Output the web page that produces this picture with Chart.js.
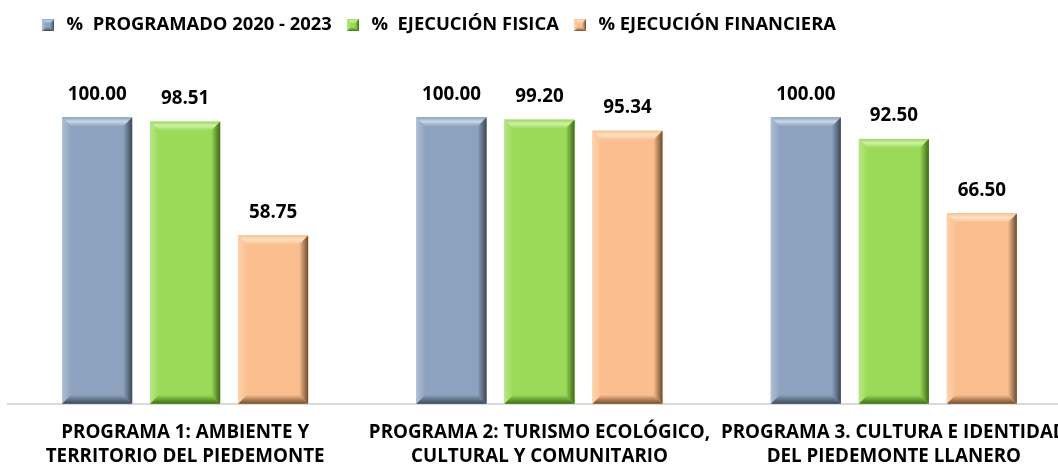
<!DOCTYPE html>
<html lang="es">
<head>
<meta charset="UTF-8">
<title>Programas</title>
<style>
  html, body { margin: 0; padding: 0; background: #fff; overflow: hidden; }
  #chart { display: block; }
</style>
<script src="https://cdn.jsdelivr.net/npm/chart.js"></script>
</head>
<body>
<canvas id="chart" width="1080" height="465"></canvas>
<script>
// datos
const categories = [
  ['PROGRAMA 1: AMBIENTE Y', 'TERRITORIO DEL PIEDEMONTE'],
  ['PROGRAMA 2: TURISMO ECOLÓGICO,', 'CULTURAL Y COMUNITARIO'],
  ['PROGRAMA 3. CULTURA E IDENTIDAD', 'DEL PIEDEMONTE LLANERO']
];
const seriesNames = ['%  PROGRAMADO 2020 - 2023', '%  EJECUCIÓN FISICA', '% EJECUCIÓN FINANCIERA'];
const programado = [100.00, 100.00, 100.00];
const ejecFisica = [98.51, 99.20, 92.50];
const ejecFinanciera = [58.75, 95.34, 66.50];

// colores: cara, luz, sombra
const palette = [
  { face: '#8DA2BE', light: '#C9D6E8', dark: '#3C4757' },
  { face: '#9BDA59', light: '#CFF0A6', dark: '#3E6B17' },
  { face: '#FBBF8F', light: '#FFE3C4', dark: '#6E4A2C' }
];

const FONT = "'Open Sans'";

function bevel(ctx, l, t, r, b, c, s) {
  const poly = (pts, fill) => {
    ctx.beginPath();
    ctx.moveTo(pts[0][0], pts[0][1]);
    for (let i = 1; i < pts.length; i++) ctx.lineTo(pts[i][0], pts[i][1]);
    ctx.closePath();
    ctx.fillStyle = fill;
    ctx.fill();
  };
  ctx.save();
  ctx.fillStyle = c.face;
  ctx.fillRect(l, t, r - l, b - t);
  // arriba
  let g = ctx.createLinearGradient(0, t, 0, t + s);
  g.addColorStop(0, c.face);
  g.addColorStop(0.45, c.light);
  g.addColorStop(1, c.face);
  poly([[l, t], [r, t], [r - s, t + s], [l + s, t + s]], g);
  // izquierda
  g = ctx.createLinearGradient(l, 0, l + s, 0);
  g.addColorStop(0, c.light);
  g.addColorStop(1, c.face);
  ctx.globalAlpha = 0.55;
  poly([[l, t], [l + s, t + s], [l + s, b - s], [l, b]], g);
  ctx.globalAlpha = 1;
  // derecha
  g = ctx.createLinearGradient(r - s, 0, r, 0);
  g.addColorStop(0, c.face);
  g.addColorStop(1, c.dark);
  poly([[r, t], [r, b], [r - s, b - s], [r - s, t + s]], g);
  // abajo
  g = ctx.createLinearGradient(0, b - s, 0, b);
  g.addColorStop(0, c.face);
  g.addColorStop(1, c.dark);
  poly([[l, b], [r, b], [r - s, b - s], [l + s, b - s]], g);
  ctx.restore();
}

function legendIcon(c) {
  const cv = document.createElement('canvas');
  cv.width = 12; cv.height = 12;
  bevel(cv.getContext('2d'), 0, 0, 12, 12, c, 4);
  return cv;
}

const bevelBars = {
  id: 'bevelBars',
  afterDatasetsDraw(chart) {
    const ctx = chart.ctx;
    chart.data.datasets.forEach((ds, i) => {
      const meta = chart.getDatasetMeta(i);
      meta.data.forEach((bar, j) => {
        const p = bar.getProps(['x', 'y', 'base', 'width'], true);
        const l = p.x - p.width / 2, r = p.x + p.width / 2;
        bevel(ctx, l, p.y, r, p.base, palette[i], 9);
        ctx.save();
        ctx.font = 'bold 18.8px ' + FONT;
        ctx.fillStyle = '#000';
        ctx.textAlign = 'center';
        ctx.textBaseline = 'middle';
        ctx.fillText(ds.data[j].toFixed(2), p.x, p.y - 23);
        ctx.restore();
      });
    });
  }
};

const shiftLegend = {
  id: 'shiftLegend',
  afterLayout(chart) {
    chart.legend.left = 27;
  }
};

const values = [programado, ejecFisica, ejecFinanciera];
const datasets = values.map((v, i) => ({
  label: seriesNames[i],
  data: v,
  backgroundColor: palette[i].face,
  borderWidth: 0,
  pointStyle: legendIcon(palette[i])
}));

new Chart(document.getElementById('chart').getContext('2d'), {
  type: 'bar',
  data: { labels: categories, datasets },
  plugins: [bevelBars, shiftLegend],
  options: {
    responsive: false,
    animation: false,
    layout: { padding: { left: 8, right: 9, top: 4, bottom: -21 } },
    categoryPercentage: 0.745,
    barPercentage: 0.795,
    plugins: {
      legend: {
        position: 'top',
        align: 'start',
        labels: {
          usePointStyle: true,
          padding: 12,
          color: '#000',
          font: { family: FONT, size: 18.4, weight: 'bold' }
        }
      },
      tooltip: { enabled: false }
    },
    scales: {
      y: { display: false, min: 0, max: 125.5 },
      x: {
        grid: { display: false, drawTicks: false },
        border: { color: '#D9D9D9', width: 2 },
        afterFit(scale) {
          scale.paddingLeft = 0;
          scale.paddingRight = 0;
        },
        ticks: {
          padding: 17,
          color: '#000',
          maxRotation: 0,
          autoSkip: false,
          font: { family: FONT, size: 18.8, weight: 'bold', lineHeight: 1.28 }
        }
      }
    }
  }
});
</script>
</body>
</html>
